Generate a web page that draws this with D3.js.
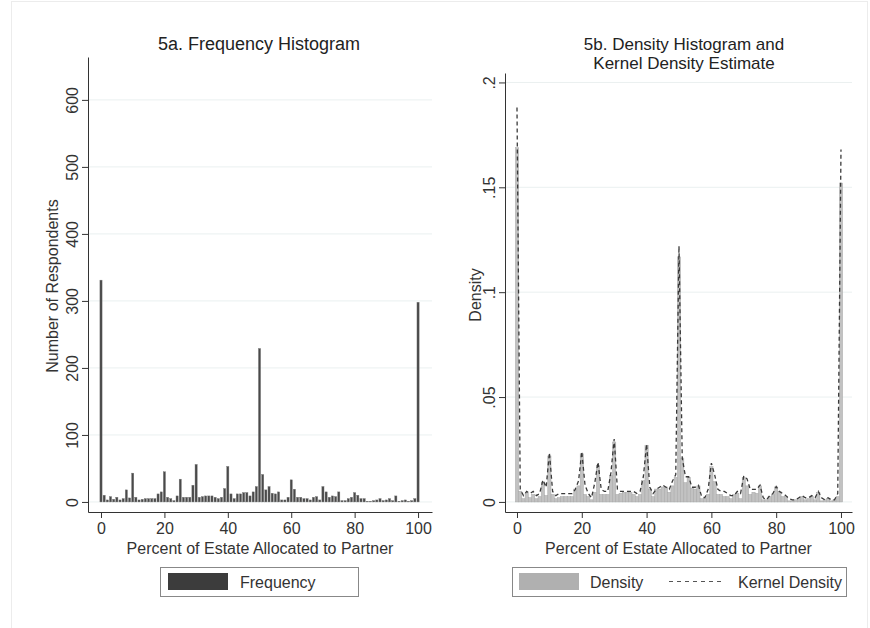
<!DOCTYPE html>
<html>
<head>
<meta charset="utf-8">
<script src="https://cdn.jsdelivr.net/npm/d3@7"></script>
<style>
  body { margin: 0; background: #fff; }
  svg { font-family: "Liberation Sans", Arial, sans-serif; }
</style>
</head>
<body>
<div class="container"></div>
<script>
// DATA

// percent of estate allocated to partner, one bin per integer value
const percents = d3.range(0, 101);

const frequency = [
  331, 10, 3, 8, 4, 7, 3, 5, 18, 6,
  43, 7, 3, 4, 5, 5, 5, 5, 12, 15,
  45, 7, 5, 2, 9, 34, 7, 7, 7, 25,
  56, 7, 8, 9, 9, 9, 7, 5, 7, 20,
  53, 12, 5, 12, 12, 14, 14, 9, 15, 23,
  229, 41, 18, 23, 13, 12, 15, 3, 3, 7,
  33, 19, 7, 7, 5, 5, 3, 7, 8, 3,
  23, 15, 7, 9, 8, 15, 2, 2, 5, 7,
  14, 10, 5, 5, 1, 1, 2, 3, 5, 2,
  3, 5, 2, 9, 1, 2, 3, 1, 2, 5,
  298
];

const respondents = 1960;

// kernel density estimate at each integer percent (read off panel 5b)
const kernelDensity = [
  0.188, 0.006, 0.003, 0.005, 0.004, 0.005, 0.003, 0.004, 0.0105, 0.007,
  0.0235, 0.005, 0.003, 0.004, 0.004, 0.004, 0.004, 0.004, 0.006, 0.010,
  0.024, 0.008, 0.004, 0.002, 0.009, 0.019, 0.006, 0.005, 0.005, 0.014,
  0.030, 0.006, 0.005, 0.005, 0.005, 0.005, 0.005, 0.004, 0.005, 0.012,
  0.0275, 0.007, 0.004, 0.006, 0.007, 0.008, 0.007, 0.006, 0.010, 0.013,
  0.122, 0.021, 0.012, 0.012, 0.007, 0.007, 0.008, 0.0025, 0.002, 0.006,
  0.0185, 0.013, 0.006, 0.005, 0.005, 0.004, 0.003, 0.003, 0.005, 0.004,
  0.0124, 0.011, 0.006, 0.006, 0.006, 0.008, 0.002, 0.001, 0.003, 0.004,
  0.0073, 0.005, 0.004, 0.003, 0.0015, 0.001, 0.001, 0.002, 0.003, 0.002,
  0.002, 0.003, 0.002, 0.005, 0.002, 0.001, 0.002, 0.001, 0.001, 0.004,
  0.168
];

// tick values
const xTicks = [0, 20, 40, 60, 80, 100];
const freqTicks = [0, 100, 200, 300, 400, 500, 600];
const densityTicks = [0, 0.05, 0.1, 0.15, 0.2];

// SETUP
const width = 870, height = 628;

const svg = d3.select("div.container")
  .append("svg")
  .attr("width", width)
  .attr("height", height);

// faint outer frame of the graph
svg.append("rect")
  .attr("x", 11.5).attr("y", 1.5)
  .attr("width", 856).attr("height", 640)
  .attr("fill", "none")
  .attr("stroke", "#ececec");

const inkColor = "#333";
const labelSize = "16px";

// draws the shared pieces of one panel: gridlines, axes, titles
function drawPanel(opt) {
  const g = svg.append("g");

  // gridlines
  g.selectAll("line.grid")
    .data(opt.yTicks)
    .enter()
    .append("line")
    .attr("class", "grid")
    .attr("x1", opt.x.range()[0])
    .attr("x2", opt.x.range()[1])
    .attr("y1", d => opt.y(d))
    .attr("y2", d => opt.y(d))
    .attr("stroke", "#eaf0f0")
    .attr("stroke-width", 1);

  // y axis
  const yAxis = g.append("g")
    .attr("transform", `translate(${opt.x.range()[0]},0)`)
    .call(d3.axisLeft(opt.y).tickValues(opt.yTicks).tickSize(6).tickSizeOuter(0).tickFormat(opt.yFormat));

  yAxis.selectAll("text")
    .attr("transform", "rotate(-90)")
    .attr("x", 0)
    .attr("y", -10)
    .attr("dy", 0)
    .attr("text-anchor", "middle");

  // x axis
  const xAxis = g.append("g")
    .attr("transform", `translate(0,${opt.y.range()[0]})`)
    .call(d3.axisBottom(opt.x).tickValues(xTicks).tickSize(6).tickSizeOuter(0));

  xAxis.selectAll("text").attr("y", 11);

  [yAxis, xAxis].forEach(a => {
    a.selectAll("text").attr("fill", inkColor).style("font-size", labelSize).style("font-family", "Liberation Sans, Arial, sans-serif");
    a.selectAll("line").attr("stroke", inkColor);
    a.select(".domain").attr("stroke", inkColor);
  });

  // axis titles
  const xMid = (opt.x.range()[0] + opt.x.range()[1]) / 2;
  g.append("text")
    .attr("x", xMid)
    .attr("y", 554)
    .attr("text-anchor", "middle")
    .attr("fill", inkColor)
    .style("font-size", labelSize)
    .text("Percent of Estate Allocated to Partner");

  g.append("text")
    .attr("transform", `translate(${opt.yTitleX},${opt.yTitleY}) rotate(-90)`)
    .attr("text-anchor", "middle")
    .attr("fill", inkColor)
    .style("font-size", labelSize)
    .text(opt.yTitle);

  // panel title, one line per text element
  opt.title.forEach((t, i) => {
    g.append("text")
      .attr("x", opt.titleX)
      .attr("y", 50 + i * 19)
      .attr("text-anchor", "middle")
      .attr("fill", "#222")
      .style("font-size", opt.title.length > 1 ? "17px" : "18px")
      .text(t);
  });

  return g;
}

// PANEL 5a
const xLeft = d3.scaleLinear().domain([-4.1, 104.4]).range([88, 432]);
const yLeft = d3.scaleLinear().domain([-15, 664]).range([512, 57]);

const left = drawPanel({
  x: xLeft, y: yLeft, yTicks: freqTicks, yFormat: d3.format("d"),
  yTitle: "Number of Respondents", yTitleX: 58, yTitleY: 286,
  title: ["5a. Frequency Histogram"], titleX: 259
});

left.selectAll("rect.bar")
  .data(percents)
  .enter()
  .append("rect")
  .attr("class", "bar")
  .attr("x", d => xLeft(d - 0.5) + 0.5)
  .attr("width", d => xLeft(d + 0.5) - xLeft(d - 0.5) - 1)
  .attr("y", (d, i) => yLeft(frequency[i]))
  .attr("height", (d, i) => yLeft(0) - yLeft(frequency[i]))
  .attr("fill", "#4a4a4a")
  .attr("stroke", "#777")
  .attr("stroke-width", 0.4);

// PANEL 5b
const xRight = d3.scaleLinear().domain([-3.7, 103.4]).range([505, 852]);
const yRight = d3.scaleLinear().domain([-0.0048, 0.2045]).range([512, 73]);

const right = drawPanel({
  x: xRight, y: yRight, yTicks: densityTicks,
  yFormat: d => d === 0 ? "0" : String(d).replace(/^0/, ""),
  yTitle: "Density", yTitleX: 481, yTitleY: 295,
  title: ["5b. Density Histogram and", "Kernel Density Estimate"], titleX: 684
});

right.selectAll("rect.bar")
  .data(percents)
  .enter()
  .append("rect")
  .attr("class", "bar")
  .attr("x", d => xRight(d - 0.5))
  .attr("width", d => xRight(d + 0.5) - xRight(d - 0.5))
  .attr("y", (d, i) => yRight(frequency[i] / respondents))
  .attr("height", (d, i) => yRight(0) - yRight(frequency[i] / respondents))
  .attr("fill", "#c2c2c2")
  .attr("stroke", "#a8a8a8")
  .attr("stroke-width", 0.5);

const kdeLine = d3.line()
  .x(d => xRight(d))
  .y((d, i) => yRight(kernelDensity[i]));

right.append("path")
  .datum(percents)
  .attr("d", kdeLine)
  .attr("fill", "none")
  .attr("stroke", "#3a3a3a")
  .attr("stroke-width", 1.3)
  .attr("stroke-dasharray", "4,3");

// LEGENDS
function legendBox(x, w) {
  return svg.append("rect")
    .attr("x", x + 0.5).attr("y", 567.5)
    .attr("width", w).attr("height", 29)
    .attr("fill", "#fff")
    .attr("stroke", "#888");
}

legendBox(160, 198);
svg.append("rect")
  .attr("x", 168).attr("y", 573)
  .attr("width", 60).attr("height", 17)
  .attr("fill", "#3c3c3c");
svg.append("text")
  .attr("x", 240).attr("y", 588)
  .attr("fill", inkColor)
  .style("font-size", labelSize)
  .text("Frequency");

legendBox(512, 334);
svg.append("rect")
  .attr("x", 519).attr("y", 573)
  .attr("width", 60).attr("height", 17)
  .attr("fill", "#b0b0b0");
svg.append("text")
  .attr("x", 590).attr("y", 588)
  .attr("fill", inkColor)
  .style("font-size", labelSize)
  .text("Density");
svg.append("line")
  .attr("x1", 669).attr("x2", 723)
  .attr("y1", 581.5).attr("y2", 581.5)
  .attr("stroke", "#555")
  .attr("stroke-width", 1)
  .attr("stroke-dasharray", "4,4");
svg.append("text")
  .attr("x", 738).attr("y", 588)
  .attr("fill", inkColor)
  .style("font-size", labelSize)
  .text("Kernel Density");
</script>
</body>
</html>
